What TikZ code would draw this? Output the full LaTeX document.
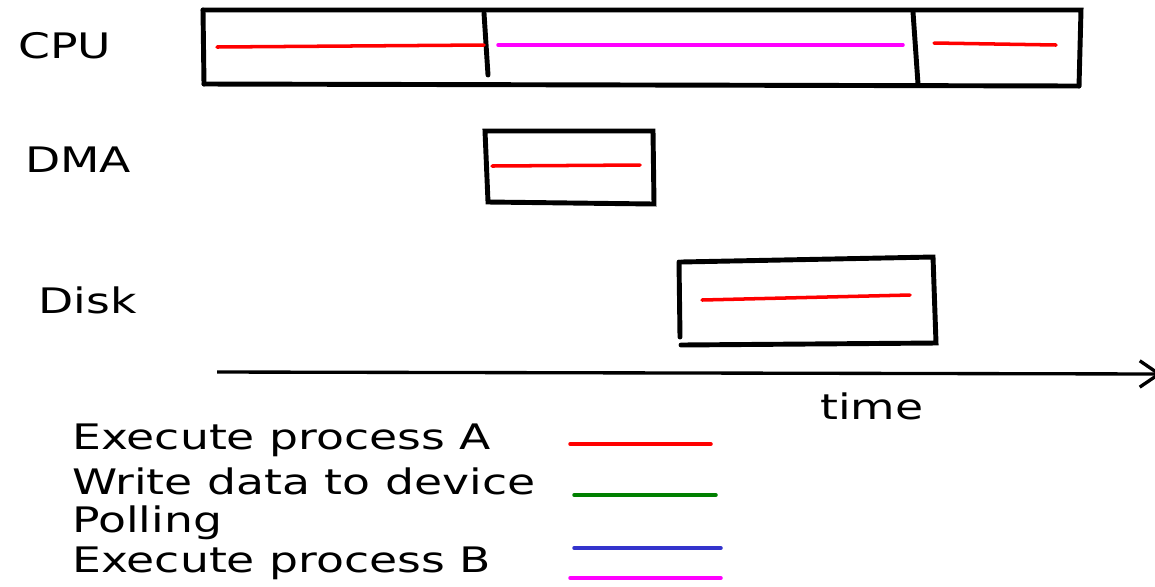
\documentclass[tikz,border=0pt]{standalone}
\usepackage{fontspec}
\setmainfont[FakeStretch=1.3]{DejaVu Sans}
\usetikzlibrary{arrows.meta,positioning,calc}
\definecolor{legblue}{RGB}{51,51,204}
\definecolor{leggreen}{RGB}{0,128,0}
\definecolor{legmag}{RGB}{255,0,255}
\definecolor{legred}{RGB}{255,0,0}
\tikzset{
	frame/.style={line width=2.8pt,line cap=round,black},
	run/.style={line width=2pt,line cap=round},
	lbl/.style={inner sep=0pt,anchor=west,font=\fontsize{20}{24}\selectfont},
}

\begin{document}
\begin{tikzpicture}[x=0.02cm,y=-0.02cm]
		\useasboundingbox (0,0) rectangle (1155,586);
		% row labels
		\node[lbl] (cpu) at (18,46) {CPU};
		\node[lbl] (dma) at (25,160) {DMA};
		\node[lbl] (disk) at (38,300) {Disk};
		% cpu box
		\coordinate (c1) at (203,10);
		\coordinate (c2) at (1081,10);
		\coordinate (c3) at (1079,86);
		\coordinate (c4) at (204,84);
		\draw[frame] (c1)--(c2)--(c3);
		\draw[frame] (c1)--(c4);
		\draw[frame] (c4)--(c3);
		\coordinate (d1) at (484,13);
		\coordinate (d2) at (488,75);
		\coordinate (d3) at (913,12);
		\coordinate (d4) at (918,84);
		\draw[frame] (d1)--(d2);
		\draw[frame] (d3)--(d4);
		\coordinate (pa) at (217,47);
		\coordinate (pb) at (484,45);
		\coordinate (qa) at (498,45);
		\coordinate (qb) at (903,45);
		\coordinate (ra) at (934,43);
		\coordinate (rb) at (1056,45);
		\draw[run,legred] (pa)--(pb);
		\draw[run,legmag] (qa)--(qb);
		\draw[run,legred] (ra)--(rb);
		% dma box
		\coordinate (m1) at (485,131);
		\coordinate (m2) at (653,131);
		\coordinate (m3) at (654,204);
		\coordinate (m4) at (488,202);
		\draw[frame] (m1)--(m2)--(m3)--(m4)--cycle;
		\coordinate (ma) at (492,166);
		\coordinate (mb) at (640,165);
		\draw[run,legred] (ma)--(mb);
		% disk box
		\coordinate (k1) at (681,262);
		\coordinate (k2) at (933,257);
		\coordinate (k3) at (936,343);
		\coordinate (k4) at (681,345);
		\coordinate (k5) at (679,262);
		\coordinate (k6) at (680,337);
		\draw[frame] (k1)--(k2)--(k3)--(k4);
		\draw[frame] (k5)--(k6);
		\coordinate (ka) at (702,300);
		\coordinate (kb) at (910,295);
		\draw[run,legred] (ka)--(kb);
		% time axis
		\coordinate (t0) at (217,372);
		\coordinate (t1) at (1162,374);
		\draw[line width=1.9pt,-{Straight Barb[length=11pt,width=15pt,line width=1.9pt]}] (t0)--(t1);
		\node[lbl] (time) at (820,406) {time};
		% legend
		\node[lbl] (la) at (72,440) {Execute process A};
		\node[lbl] (lb) at (72,481) {Write data to device};
		\node[lbl] (lc) at (72,523) {Polling};
		\node[lbl] (ld) at (72,563) {Execute process B};
		\coordinate (e1) at (570,444);
		\coordinate (e2) at (711,444);
		\coordinate (f1) at (574,495);
		\coordinate (f2) at (716,495);
		\coordinate (g1) at (574,548);
		\coordinate (g2) at (721,548);
		\coordinate (h1) at (570,578);
		\coordinate (h2) at (721,578);
		\draw[run,legred] (e1)--(e2);
		\draw[run,leggreen] (f1)--(f2);
		\draw[run,legblue] (g1)--(g2);
		\draw[run,legmag] (h1)--(h2);
\end{tikzpicture}
\end{document}
